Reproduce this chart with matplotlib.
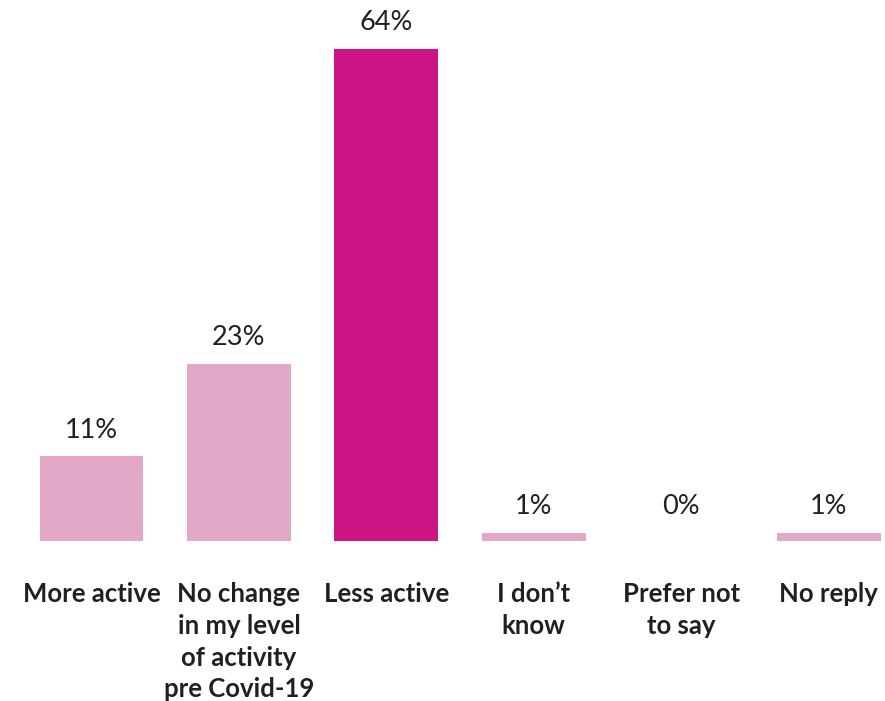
import matplotlib.pyplot as plt

# change in activity level compared with before Covid-19
categories = ["More active", "No change\nin my level\nof activity\npre Covid-19", "Less active",
              "I don\u2019t\nknow", "Prefer not\nto say", "No reply"]
percentages = [11, 23, 64, 1, 0, 1]
bar_colors = ["#E3A8C8", "#E3A8C8", "#CB1584", "#E3A8C8", "#E3A8C8", "#E3A8C8"]

plt.rcParams['font.family'] = ['Lato', 'DejaVu Sans']

fig = plt.figure(figsize=(8.85, 7.01), dpi=100)
ax = fig.add_axes([0, 160 / 701, 1, 541 / 701])

x = range(len(categories))
bars = ax.bar(x, percentages, width=0.705, color=bar_colors)

# value labels sit above the bar; tiny bars share a common label height
for xi, val in zip(x, percentages):
    ax.annotate(f"{val}%", (xi, max(val, 1)), xytext=(0, 10), textcoords="offset points",
                ha="center", va="bottom", fontsize=19.5, color="#231F20")

ax.set_xlim(-0.621, 5.383)
ax.set_ylim(0, 70.35)
ax.set_xticks(list(x))
ax.set_xticklabels(categories, fontsize=18.5, fontweight="bold", color="#231F20",
                   linespacing=1.39, va="top")
ax.tick_params(axis="x", length=0, pad=29.5)
ax.set_yticks([])
for s in ax.spines.values():
    s.set_visible(False)

fig.savefig("out.png", dpi=100)
